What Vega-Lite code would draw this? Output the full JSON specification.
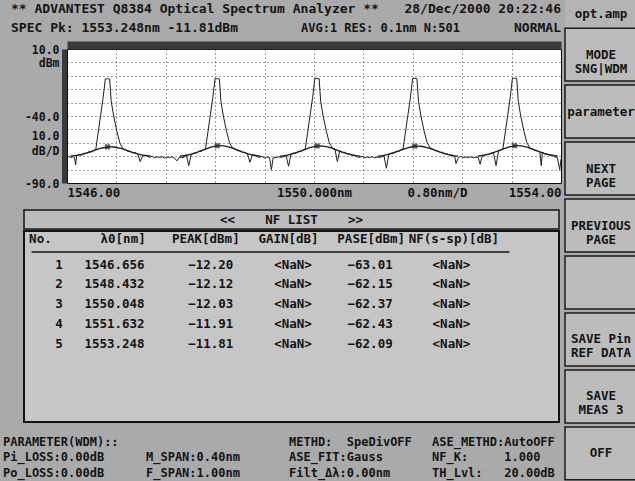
{
  "$schema": "https://vega.github.io/schema/vega-lite/v6.json",
  "background": "#aaaaaa",
  "padding": 0,
  "autosize": {"type": "pad"},
  "spacing": 0,
  "config": {
    "font": "DejaVu Sans Mono",
    "view": {"stroke": null},
    "concat": {"spacing": 0},
    "text": {"font": "DejaVu Sans Mono", "fontSize": 12.5, "fontWeight": "bold", "color": "#141414", "baseline": "middle"},
    "axis": {"labelFont": "DejaVu Sans Mono", "labelFontSize": 12.5, "labelFontWeight": "bold", "labelColor": "#141414", "titleFont": "DejaVu Sans Mono", "titleFontSize": 12.5, "titleFontWeight": "bold", "titleColor": "#141414"}
  },
  "datasets": {
    "header": [
      {"line": 1, "slot": "L", "text": "** ADVANTEST Q8384 Optical Spectrum Analyzer **"},
      {"line": 1, "slot": "R", "text": "28/Dec/2000 20:22:46"},
      {"line": 2, "slot": "L", "text": "SPEC Pk: 1553.248nm -11.81dBm"},
      {"line": 2, "slot": "M", "text": "AVG:1 RES: 0.1nm N:501"},
      {"line": 2, "slot": "R", "text": "NORMAL"}
    ],
    "trace": [
      {"nm": 1546.00, "dbm": -70.8}, {"nm": 1546.03, "dbm": -70.2}, {"nm": 1546.06, "dbm": -71.0}, {"nm": 1546.09, "dbm": -70.4},
      {"nm": 1546.12, "dbm": -70.9}, {"nm": 1546.14, "dbm": -76.5}, {"nm": 1546.156, "dbm": -69.7}, {"nm": 1546.196, "dbm": -68.7},
      {"nm": 1546.236, "dbm": -69.2}, {"nm": 1546.276, "dbm": -67.9}, {"nm": 1546.316, "dbm": -67.9}, {"nm": 1546.356, "dbm": -66.6},
      {"nm": 1546.396, "dbm": -66.8}, {"nm": 1546.436, "dbm": -65.6}, {"nm": 1546.466, "dbm": -65.0}, {"nm": 1546.506, "dbm": -52.0},
      {"nm": 1546.546, "dbm": -39.0}, {"nm": 1546.586, "dbm": -26.0}, {"nm": 1546.621, "dbm": -12.3}, {"nm": 1546.656, "dbm": -12.2},
      {"nm": 1546.691, "dbm": -12.4}, {"nm": 1546.716, "dbm": -29.0}, {"nm": 1546.756, "dbm": -40.0}, {"nm": 1546.806, "dbm": -51.0},
      {"nm": 1546.856, "dbm": -60.0}, {"nm": 1546.906, "dbm": -64.4}, {"nm": 1546.946, "dbm": -65.0}, {"nm": 1546.986, "dbm": -66.3},
      {"nm": 1547.026, "dbm": -66.4}, {"nm": 1547.066, "dbm": -67.5}, {"nm": 1547.106, "dbm": -67.3}, {"nm": 1547.146, "dbm": -68.5},
      {"nm": 1547.186, "dbm": -74.0}, {"nm": 1547.226, "dbm": -69.6}, {"nm": 1547.266, "dbm": -69.3}, {"nm": 1547.30, "dbm": -70.2},
      {"nm": 1547.34, "dbm": -70.8}, {"nm": 1547.38, "dbm": -70.1}, {"nm": 1547.42, "dbm": -71.2}, {"nm": 1547.46, "dbm": -70.5},
      {"nm": 1547.50, "dbm": -70.9}, {"nm": 1547.54, "dbm": -70.3}, {"nm": 1547.58, "dbm": -71.4}, {"nm": 1547.62, "dbm": -70.6},
      {"nm": 1547.66, "dbm": -71.0}, {"nm": 1547.70, "dbm": -70.4}, {"nm": 1547.74, "dbm": -71.3}, {"nm": 1547.78, "dbm": -73.5},
      {"nm": 1547.82, "dbm": -70.7}, {"nm": 1547.86, "dbm": -71.1}, {"nm": 1547.90, "dbm": -70.6}, {"nm": 1547.932, "dbm": -69.0},
      {"nm": 1547.972, "dbm": -77.0}, {"nm": 1548.012, "dbm": -68.8}, {"nm": 1548.052, "dbm": -67.6}, {"nm": 1548.092, "dbm": -67.7},
      {"nm": 1548.132, "dbm": -66.3}, {"nm": 1548.172, "dbm": -66.5}, {"nm": 1548.212, "dbm": -65.1}, {"nm": 1548.242, "dbm": -64.6},
      {"nm": 1548.282, "dbm": -52.0}, {"nm": 1548.322, "dbm": -39.0}, {"nm": 1548.362, "dbm": -26.0}, {"nm": 1548.397, "dbm": -12.2},
      {"nm": 1548.432, "dbm": -12.12}, {"nm": 1548.467, "dbm": -12.3}, {"nm": 1548.492, "dbm": -29.0}, {"nm": 1548.532, "dbm": -40.0},
      {"nm": 1548.582, "dbm": -51.0}, {"nm": 1548.632, "dbm": -60.0}, {"nm": 1548.682, "dbm": -63.9}, {"nm": 1548.722, "dbm": -64.5},
      {"nm": 1548.762, "dbm": -65.9}, {"nm": 1548.802, "dbm": -66.0}, {"nm": 1548.842, "dbm": -67.2}, {"nm": 1548.882, "dbm": -67.0},
      {"nm": 1548.922, "dbm": -68.3}, {"nm": 1548.962, "dbm": -74.5}, {"nm": 1549.002, "dbm": -69.0}, {"nm": 1549.042, "dbm": -69.2},
      {"nm": 1549.08, "dbm": -70.3}, {"nm": 1549.12, "dbm": -70.9}, {"nm": 1549.16, "dbm": -70.2}, {"nm": 1549.20, "dbm": -71.3},
      {"nm": 1549.24, "dbm": -70.6}, {"nm": 1549.28, "dbm": -71.0}, {"nm": 1549.31, "dbm": -80.0}, {"nm": 1549.34, "dbm": -70.8},
      {"nm": 1549.38, "dbm": -71.2}, {"nm": 1549.42, "dbm": -70.4}, {"nm": 1549.46, "dbm": -70.9}, {"nm": 1549.50, "dbm": -70.5},
      {"nm": 1549.548, "dbm": -69.6}, {"nm": 1549.588, "dbm": -77.5}, {"nm": 1549.628, "dbm": -68.3}, {"nm": 1549.668, "dbm": -67.7},
      {"nm": 1549.708, "dbm": -67.6}, {"nm": 1549.748, "dbm": -66.4}, {"nm": 1549.788, "dbm": -66.4}, {"nm": 1549.828, "dbm": -65.2},
      {"nm": 1549.858, "dbm": -64.7}, {"nm": 1549.898, "dbm": -52.0}, {"nm": 1549.938, "dbm": -39.0}, {"nm": 1549.978, "dbm": -26.0},
      {"nm": 1550.013, "dbm": -12.1}, {"nm": 1550.048, "dbm": -12.03}, {"nm": 1550.083, "dbm": -12.2}, {"nm": 1550.108, "dbm": -29.0},
      {"nm": 1550.148, "dbm": -40.0}, {"nm": 1550.198, "dbm": -51.0}, {"nm": 1550.248, "dbm": -60.0}, {"nm": 1550.298, "dbm": -64.0},
      {"nm": 1550.338, "dbm": -64.5}, {"nm": 1550.378, "dbm": -74.0}, {"nm": 1550.418, "dbm": -66.0}, {"nm": 1550.458, "dbm": -67.2},
      {"nm": 1550.498, "dbm": -67.1}, {"nm": 1550.538, "dbm": -68.3}, {"nm": 1550.578, "dbm": -68.3}, {"nm": 1550.618, "dbm": -69.4},
      {"nm": 1550.658, "dbm": -69.2}, {"nm": 1550.70, "dbm": -70.4}, {"nm": 1550.74, "dbm": -70.9}, {"nm": 1550.78, "dbm": -70.1},
      {"nm": 1550.82, "dbm": -71.2}, {"nm": 1550.86, "dbm": -70.5}, {"nm": 1550.90, "dbm": -71.0}, {"nm": 1550.94, "dbm": -70.3},
      {"nm": 1550.98, "dbm": -71.3}, {"nm": 1551.02, "dbm": -70.6}, {"nm": 1551.06, "dbm": -70.9}, {"nm": 1551.10, "dbm": -70.4},
      {"nm": 1551.132, "dbm": -69.5}, {"nm": 1551.172, "dbm": -79.0}, {"nm": 1551.212, "dbm": -68.8}, {"nm": 1551.252, "dbm": -67.7},
      {"nm": 1551.292, "dbm": -67.6}, {"nm": 1551.332, "dbm": -66.3}, {"nm": 1551.372, "dbm": -66.5}, {"nm": 1551.412, "dbm": -65.1},
      {"nm": 1551.442, "dbm": -64.7}, {"nm": 1551.482, "dbm": -52.0}, {"nm": 1551.522, "dbm": -39.0}, {"nm": 1551.562, "dbm": -26.0},
      {"nm": 1551.597, "dbm": -12.0}, {"nm": 1551.632, "dbm": -11.91}, {"nm": 1551.667, "dbm": -12.1}, {"nm": 1551.692, "dbm": -29.0},
      {"nm": 1551.732, "dbm": -40.0}, {"nm": 1551.782, "dbm": -51.0}, {"nm": 1551.832, "dbm": -60.0}, {"nm": 1551.882, "dbm": -63.9},
      {"nm": 1551.922, "dbm": -64.6}, {"nm": 1551.962, "dbm": -65.8}, {"nm": 1552.002, "dbm": -66.0}, {"nm": 1552.042, "dbm": -67.2},
      {"nm": 1552.082, "dbm": -67.1}, {"nm": 1552.122, "dbm": -68.3}, {"nm": 1552.162, "dbm": -68.4}, {"nm": 1552.202, "dbm": -69.3},
      {"nm": 1552.242, "dbm": -69.2}, {"nm": 1552.28, "dbm": -70.5}, {"nm": 1552.30, "dbm": -75.5}, {"nm": 1552.34, "dbm": -70.8},
      {"nm": 1552.38, "dbm": -70.2}, {"nm": 1552.42, "dbm": -71.1}, {"nm": 1552.46, "dbm": -70.6}, {"nm": 1552.50, "dbm": -71.0},
      {"nm": 1552.54, "dbm": -70.4}, {"nm": 1552.58, "dbm": -71.2}, {"nm": 1552.62, "dbm": -70.7}, {"nm": 1552.66, "dbm": -70.9},
      {"nm": 1552.69, "dbm": -76.0}, {"nm": 1552.72, "dbm": -70.5}, {"nm": 1552.748, "dbm": -69.5}, {"nm": 1552.788, "dbm": -68.6},
      {"nm": 1552.828, "dbm": -68.8}, {"nm": 1552.868, "dbm": -67.6}, {"nm": 1552.908, "dbm": -67.6}, {"nm": 1552.948, "dbm": -77.0},
      {"nm": 1552.988, "dbm": -66.4}, {"nm": 1553.028, "dbm": -65.2}, {"nm": 1553.058, "dbm": -64.6}, {"nm": 1553.098, "dbm": -52.0},
      {"nm": 1553.138, "dbm": -39.0}, {"nm": 1553.178, "dbm": -26.0}, {"nm": 1553.213, "dbm": -11.9}, {"nm": 1553.248, "dbm": -11.81},
      {"nm": 1553.283, "dbm": -12.0}, {"nm": 1553.308, "dbm": -29.0}, {"nm": 1553.348, "dbm": -40.0}, {"nm": 1553.398, "dbm": -51.0},
      {"nm": 1553.448, "dbm": -60.0}, {"nm": 1553.498, "dbm": -64.0}, {"nm": 1553.538, "dbm": -64.5}, {"nm": 1553.578, "dbm": -65.8},
      {"nm": 1553.618, "dbm": -66.0}, {"nm": 1553.658, "dbm": -67.1}, {"nm": 1553.68, "dbm": -77.0}, {"nm": 1553.698, "dbm": -67.2},
      {"nm": 1553.738, "dbm": -68.3}, {"nm": 1553.778, "dbm": -68.4}, {"nm": 1553.818, "dbm": -69.3}, {"nm": 1553.858, "dbm": -69.2},
      {"nm": 1553.90, "dbm": -70.5}, {"nm": 1553.94, "dbm": -71.0}, {"nm": 1553.98, "dbm": -80.0}, {"nm": 1554.00, "dbm": -72.0}
    ],
    "fit": [
      {"peak": 1, "nm": 1546.056, "dbm": -69.99}, {"peak": 1, "nm": 1546.156, "dbm": -69.41}, {"peak": 1, "nm": 1546.256, "dbm": -68.44},
      {"peak": 1, "nm": 1546.356, "dbm": -67.07}, {"peak": 1, "nm": 1546.456, "dbm": -65.47}, {"peak": 1, "nm": 1546.556, "dbm": -64.01},
      {"peak": 1, "nm": 1546.656, "dbm": -63.13}, {"peak": 1, "nm": 1546.706, "dbm": -63.01}, {"peak": 1, "nm": 1546.756, "dbm": -63.13},
      {"peak": 1, "nm": 1546.856, "dbm": -64.01}, {"peak": 1, "nm": 1546.956, "dbm": -65.47}, {"peak": 1, "nm": 1547.056, "dbm": -67.07},
      {"peak": 1, "nm": 1547.156, "dbm": -68.44}, {"peak": 1, "nm": 1547.256, "dbm": -69.41}, {"peak": 1, "nm": 1547.356, "dbm": -69.99},
      {"peak": 2, "nm": 1547.832, "dbm": -69.94}, {"peak": 2, "nm": 1547.932, "dbm": -69.29}, {"peak": 2, "nm": 1548.032, "dbm": -68.20},
      {"peak": 2, "nm": 1548.132, "dbm": -66.68}, {"peak": 2, "nm": 1548.232, "dbm": -64.90}, {"peak": 2, "nm": 1548.332, "dbm": -63.27},
      {"peak": 2, "nm": 1548.432, "dbm": -62.28}, {"peak": 2, "nm": 1548.482, "dbm": -62.15}, {"peak": 2, "nm": 1548.532, "dbm": -62.28},
      {"peak": 2, "nm": 1548.632, "dbm": -63.27}, {"peak": 2, "nm": 1548.732, "dbm": -64.90}, {"peak": 2, "nm": 1548.832, "dbm": -66.68},
      {"peak": 2, "nm": 1548.932, "dbm": -68.20}, {"peak": 2, "nm": 1549.032, "dbm": -69.29}, {"peak": 2, "nm": 1549.132, "dbm": -69.94},
      {"peak": 3, "nm": 1549.448, "dbm": -69.95}, {"peak": 3, "nm": 1549.548, "dbm": -69.32}, {"peak": 3, "nm": 1549.648, "dbm": -68.26},
      {"peak": 3, "nm": 1549.748, "dbm": -66.78}, {"peak": 3, "nm": 1549.848, "dbm": -65.05}, {"peak": 3, "nm": 1549.948, "dbm": -63.46},
      {"peak": 3, "nm": 1550.048, "dbm": -62.50}, {"peak": 3, "nm": 1550.098, "dbm": -62.37}, {"peak": 3, "nm": 1550.148, "dbm": -62.50},
      {"peak": 3, "nm": 1550.248, "dbm": -63.46}, {"peak": 3, "nm": 1550.348, "dbm": -65.05}, {"peak": 3, "nm": 1550.448, "dbm": -66.78},
      {"peak": 3, "nm": 1550.548, "dbm": -68.26}, {"peak": 3, "nm": 1550.648, "dbm": -69.32}, {"peak": 3, "nm": 1550.748, "dbm": -69.95},
      {"peak": 4, "nm": 1551.032, "dbm": -69.95}, {"peak": 4, "nm": 1551.132, "dbm": -69.33}, {"peak": 4, "nm": 1551.232, "dbm": -68.28},
      {"peak": 4, "nm": 1551.332, "dbm": -66.80}, {"peak": 4, "nm": 1551.432, "dbm": -65.09}, {"peak": 4, "nm": 1551.532, "dbm": -63.51},
      {"peak": 4, "nm": 1551.632, "dbm": -62.56}, {"peak": 4, "nm": 1551.682, "dbm": -62.43}, {"peak": 4, "nm": 1551.732, "dbm": -62.56},
      {"peak": 4, "nm": 1551.832, "dbm": -63.51}, {"peak": 4, "nm": 1551.932, "dbm": -65.09}, {"peak": 4, "nm": 1552.032, "dbm": -66.80},
      {"peak": 4, "nm": 1552.132, "dbm": -68.28}, {"peak": 4, "nm": 1552.232, "dbm": -69.33}, {"peak": 4, "nm": 1552.332, "dbm": -69.95},
      {"peak": 5, "nm": 1552.648, "dbm": -69.93}, {"peak": 5, "nm": 1552.748, "dbm": -69.28}, {"peak": 5, "nm": 1552.848, "dbm": -68.19},
      {"peak": 5, "nm": 1552.948, "dbm": -66.65}, {"peak": 5, "nm": 1553.048, "dbm": -64.86}, {"peak": 5, "nm": 1553.148, "dbm": -63.22},
      {"peak": 5, "nm": 1553.248, "dbm": -62.22}, {"peak": 5, "nm": 1553.298, "dbm": -62.09}, {"peak": 5, "nm": 1553.348, "dbm": -62.22},
      {"peak": 5, "nm": 1553.448, "dbm": -63.22}, {"peak": 5, "nm": 1553.548, "dbm": -64.86}, {"peak": 5, "nm": 1553.648, "dbm": -66.65},
      {"peak": 5, "nm": 1553.748, "dbm": -68.19}, {"peak": 5, "nm": 1553.848, "dbm": -69.28}, {"peak": 5, "nm": 1553.948, "dbm": -69.93}
    ],
    "markers": [
      {"nm": 1546.656, "dbm": -63.01}, {"nm": 1548.432, "dbm": -62.15}, {"nm": 1550.048, "dbm": -62.37},
      {"nm": 1551.632, "dbm": -62.43}, {"nm": 1553.248, "dbm": -62.09}
    ],
    "nf": [
      {"No": 1, "lambda": 1546.656, "peak": -12.20, "gain": "<NaN>", "pase": -63.01, "nf": "<NaN>"},
      {"No": 2, "lambda": 1548.432, "peak": -12.12, "gain": "<NaN>", "pase": -62.15, "nf": "<NaN>"},
      {"No": 3, "lambda": 1550.048, "peak": -12.03, "gain": "<NaN>", "pase": -62.37, "nf": "<NaN>"},
      {"No": 4, "lambda": 1551.632, "peak": -11.91, "gain": "<NaN>", "pase": -62.43, "nf": "<NaN>"},
      {"No": 5, "lambda": 1553.248, "peak": -11.81, "gain": "<NaN>", "pase": -62.09, "nf": "<NaN>"}
    ],
    "params": [
      {"line": 1, "grp": "A", "text": "PARAMETER(WDM)::"},
      {"line": 1, "grp": "C", "text": "METHD:\u00a0\u00a0SpeDivOFF"},
      {"line": 1, "grp": "D", "text": "ASE_METHD:AutoOFF"},
      {"line": 2, "grp": "A", "text": "Pi_LOSS:0.00dB"},
      {"line": 2, "grp": "B", "text": "M_SPAN:0.40nm"},
      {"line": 2, "grp": "C", "text": "ASE_FIT:Gauss"},
      {"line": 2, "grp": "D", "text": "NF_K:\u00a0\u00a0\u00a0\u00a0\u00a01.000"},
      {"line": 3, "grp": "A", "text": "Po_LOSS:0.00dB"},
      {"line": 3, "grp": "B", "text": "F_SPAN:1.00nm"},
      {"line": 3, "grp": "C", "text": "Filt_Δλ:0.00nm"},
      {"line": 3, "grp": "D", "text": "TH_Lvl:\u00a0\u00a0\u00a020.00dB"}
    ],
    "buttons": [
      {"id": 1, "label": ["MODE", "SNG|WDM"]},
      {"id": 2, "label": "parameter"},
      {"id": 3, "label": ["NEXT", "PAGE"]},
      {"id": 4, "label": ["PREVIOUS", "PAGE"]},
      {"id": 5, "label": ""},
      {"id": 6, "label": ["SAVE Pin", "REF DATA"]},
      {"id": 7, "label": ["SAVE", "MEAS 3"]},
      {"id": 8, "label": "OFF"}
    ]
  },
  "hconcat": [
    {
      "spacing": 0,
      "vconcat": [
        {
          "width": 497, "height": 40,
          "data": {"name": "header"},
          "layer": [
            {
              "transform": [{"filter": "datum.slot == 'L'"}],
              "mark": {"type": "text", "align": "left", "fontSize": 13},
              "encoding": {
                "x": {"field": "slot", "type": "nominal", "scale": {"type": "point", "domain": ["L", "M", "R"], "range": [-56, 494], "padding": 0}, "axis": null},
                "y": {"field": "line", "type": "ordinal", "scale": {"type": "point", "domain": [1, 2], "range": [9, 28], "padding": 0}, "axis": null},
                "text": {"field": "text", "type": "nominal"}
              }
            },
            {
              "transform": [{"filter": "datum.slot == 'M'"}],
              "mark": {"type": "text", "align": "left", "dx": 15, "fontSize": 12},
              "encoding": {
                "x": {"field": "slot", "type": "nominal"},
                "y": {"field": "line", "type": "ordinal"},
                "text": {"field": "text", "type": "nominal"}
              }
            },
            {
              "transform": [{"filter": "datum.slot == 'R'"}],
              "mark": {"type": "text", "align": "right", "fontSize": 13},
              "encoding": {
                "x": {"field": "slot", "type": "nominal"},
                "y": {"field": "line", "type": "ordinal"},
                "text": {"field": "text", "type": "nominal"}
              }
            }
          ]
        },
        {
          "width": 494, "height": 134,
          "view": {"fill": "#ffffff", "stroke": "#111111", "strokeWidth": 1},
          "encoding": {
            "y": {
              "field": "dbm", "type": "quantitative",
              "scale": {"domain": [-90, 10], "nice": false, "zero": false},
              "axis": {
                "values": [10, 0, -10, -20, -30, -40, -50, -60, -70, -80, -90],
                "grid": true, "gridDash": [1, 3], "gridColor": "#000000", "gridOpacity": 0.75,
                "domain": true, "domainWidth": 5, "domainColor": "#3a3a3a", "offset": 3,
                "ticks": false, "labelPadding": 5, "labelOverlap": false, "labelBound": false, "labelFlush": false, "labelOffset": 1,
                "labelFontSize": 11.5,
                "labelExpr": "datum.value == 10 ? '10.0' : datum.value == 0 ? 'dBm' : datum.value == -40 ? '-40.0' : datum.value == -90 ? '-90.0' : ''",
                "title": ["10.0", "dB/D"], "titleFontSize": 11.5, "titleAngle": 0, "titleAlign": "right", "titleBaseline": "middle",
                "titleX": -5, "titleY": 87, "titleLineHeight": 15,
                "minExtent": 63, "maxExtent": 63
              }
            }
          },
          "layer": [
            {
              "data": {"name": "trace"},
              "mark": {"type": "line", "color": "#1e1e1e", "strokeWidth": 1},
              "encoding": {
                "x": {
                  "field": "nm", "type": "quantitative",
                  "scale": {"domain": [1546, 1554], "nice": false, "zero": false},
                  "axis": {
                    "orient": "bottom",
                    "values": [1546, 1546.8, 1547.6, 1548.4, 1549.2, 1550, 1550.8, 1551.6, 1552.4, 1553.2, 1554],
                    "grid": true, "gridDash": [1, 3], "gridColor": "#000000", "gridOpacity": 0.75,
                    "domain": false, "ticks": false, "labelPadding": 3, "labelFlush": true, "labelOverlap": false,
                    "labelExpr": "datum.value == 1546 ? '1546.00' : datum.value == 1550 ? '1550.000nm' : datum.value == 1554 ? '1554.00' : ''",
                    "title": "0.80nm/D", "titleX": 370, "titleY": 9.5, "titleBaseline": "middle", "titleAlign": "center",
                    "minExtent": 25, "maxExtent": 25
                  }
                }
              }
            },
            {
              "data": {"name": "fit"},
              "mark": {"type": "line", "color": "#1e1e1e", "strokeWidth": 1.3, "interpolate": "monotone"},
              "encoding": {
                "x": {
                  "field": "nm", "type": "quantitative",
                  "axis": {"orient": "top", "labels": false, "ticks": false, "grid": false, "domain": true, "domainWidth": 8, "domainColor": "#3a3a3a", "offset": 4, "title": null, "minExtent": 4, "maxExtent": 4}
                },
                "detail": {"field": "peak", "type": "nominal"}
              }
            },
            {
              "data": {"name": "markers"},
              "mark": {"type": "point", "shape": "cross", "angle": 45, "size": 40, "filled": true, "color": "#1e1e1e"},
              "encoding": {
                "x": {"field": "nm", "type": "quantitative", "axis": null}
              }
            }
          ],
          "resolve": {"axis": {"x": "independent"}}
        },
        {
          "width": 492, "height": 19,
          "data": {"values": [{"title": "<<\u00a0\u00a0\u00a0\u00a0NF LIST\u00a0\u00a0\u00a0\u00a0>>"}]},
          "layer": [
            {
              "mark": {"type": "rect", "fill": "#bcbcbc", "stroke": "#141414", "strokeWidth": 1.5},
              "encoding": {
                "x": {"datum": 0, "type": "quantitative", "scale": {"domain": [0, 1], "range": [-43, 492]}, "axis": null},
                "x2": {"datum": 1}
              }
            },
            {
              "mark": {"type": "text", "dx": -21.5},
              "encoding": {"text": {"field": "title", "type": "nominal"}}
            }
          ]
        },
        {
          "width": 492, "height": 191,
          "layer": [
            {
              "data": {"values": [{"panel": "NF LIST"}]},
              "mark": {"type": "rect", "fill": "#c6c6c6", "stroke": "#141414", "strokeWidth": 2},
              "encoding": {
                "x": {"datum": 0, "type": "quantitative", "scale": {"domain": [0, 1], "range": [-43, 492]}, "axis": null},
                "x2": {"datum": 1}
              }
            },
            {
              "data": {"name": "nf"},
              "encoding": {
                "y": {"field": "No", "type": "ordinal", "scale": {"type": "point", "domain": [1, 2, 3, 4, 5], "range": [33.5, 112.5], "padding": 0}, "axis": null}
              },
              "layer": [
                {
                  "mark": {"type": "text", "align": "right", "dx": 23},
                  "encoding": {
                    "x": {"datum": "No.", "type": "nominal",
                          "scale": {"type": "point", "domain": ["No.", "λ0[nm]", "PEAK[dBm]", "GAIN[dB]", "PASE[dBm]", "NF(s-sp)[dB]"], "range": [-36, 442], "padding": 0.39, "align": 0.138},
                          "axis": {"orient": "top", "offset": -20.5, "zindex": 2, "title": null, "ticks": false, "grid": false, "domain": true, "domainColor": "#141414", "domainWidth": 1.5, "labelPadding": 6, "labelAngle": 0, "minExtent": 0, "maxExtent": 0}},
                    "text": {"field": "No", "type": "quantitative", "format": "d"}
                  }
                },
                {
                  "mark": {"type": "text", "align": "right", "dx": 22},
                  "encoding": {
                    "x": {"datum": "λ0[nm]", "type": "nominal"},
                    "text": {"field": "lambda", "type": "quantitative", "format": ".3f"}
                  }
                },
                {
                  "mark": {"type": "text", "align": "right", "dx": 28},
                  "encoding": {
                    "x": {"datum": "PEAK[dBm]", "type": "nominal"},
                    "text": {"field": "peak", "type": "quantitative", "format": ".2f"}
                  }
                },
                {
                  "mark": {"type": "text", "align": "center", "dx": 5},
                  "encoding": {
                    "x": {"datum": "GAIN[dB]", "type": "nominal"},
                    "text": {"field": "gain", "type": "nominal"}
                  }
                },
                {
                  "mark": {"type": "text", "align": "right", "dx": 22},
                  "encoding": {
                    "x": {"datum": "PASE[dBm]", "type": "nominal"},
                    "text": {"field": "pase", "type": "quantitative", "format": ".2f"}
                  }
                },
                {
                  "mark": {"type": "text", "align": "center", "dx": -2},
                  "encoding": {
                    "x": {"datum": "NF(s-sp)[dB]", "type": "nominal"},
                    "text": {"field": "nf", "type": "nominal"}
                  }
                }
              ]
            }
          ],
          "resolve": {"scale": {"x": "independent"}, "axis": {"x": "independent"}}
        },
        {
          "width": 497, "height": 59,
          "data": {"name": "params"},
          "mark": {"type": "text", "align": "left", "fontSize": 12},
          "encoding": {
            "x": {"field": "grp", "type": "nominal", "scale": {"type": "point", "domain": ["A", "B", "C", "D"], "range": [-64, 365], "padding": 0}, "axis": null},
            "y": {"field": "line", "type": "ordinal", "scale": {"type": "point", "domain": [1, 2, 3], "range": [18.5, 49.5], "padding": 0}, "axis": null},
            "text": {"field": "text", "type": "nominal"}
          }
        }
      ]
    },
    {
      "spacing": 0,
      "vconcat": [
        {
          "width": 72, "height": 27,
          "view": {"fill": "#b4b4b4"},
          "data": {"values": [{"label": "opt.amp"}]},
          "mark": {"type": "text"},
          "encoding": {"text": {"field": "label", "type": "nominal"}}
        },
        {
          "width": 72, "height": 454,
          "data": {"name": "buttons"},
          "encoding": {
            "y": {"field": "id", "type": "ordinal", "scale": {"type": "band", "paddingInner": 0.07, "paddingOuter": 0.02}, "axis": null}
          },
          "layer": [
            {"mark": {"type": "rect", "fill": "#bcbcbc", "stroke": "#1a1a1a", "strokeWidth": 1.5}},
            {"mark": {"type": "text", "lineHeight": 14}, "encoding": {"text": {"field": "label", "type": "nominal"}}}
          ]
        }
      ]
    }
  ]
}
